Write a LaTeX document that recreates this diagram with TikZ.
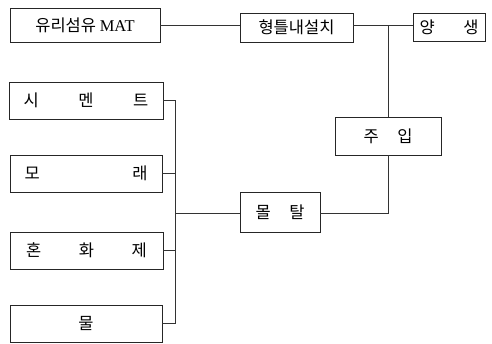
\documentclass[tikz,border=0pt]{standalone}
\usepackage{fontspec}
\setmainfont{Liberation Serif}
\newfontfamily\kr{Noto Sans CJK KR}[Scale=1]
\begin{document}
\begin{tikzpicture}[x=1pt,y=-1pt,
  box/.style={draw=black!85,line width=0.7pt,inner sep=0pt,rectangle,
    font=\fontsize{16.5}{18}\selectfont\kr},
  link/.style={draw=black!80,line width=0.7pt}]
\useasboundingbox (0,0) rectangle (492,344);
\node[box,minimum width=150pt,minimum height=34pt] (mat) at (85,25) {유리섬유 {\fontsize{16.5}{18}\rmfamily MAT}};
\node[box,minimum width=113pt,minimum height=29pt] (form) at (296.5,27.5) {형틀내설치};
\node[box,minimum width=72pt,minimum height=28pt] (cure) at (449,27) {양\hspace{28.5pt}생};
\node[box,minimum width=106pt,minimum height=38pt] (pour) at (388,136) {주\hspace{18.5pt}입};
\node[box,minimum width=80pt,minimum height=40pt] (mortar) at (280,212) {몰\hspace{18.5pt}탈};
\node[box,minimum width=154pt,minimum height=37pt] (cement) at (86,100.5) {시\hspace{39.5pt}멘\hspace{39.5pt}트};
\node[box,minimum width=152pt,minimum height=37pt] (sand) at (86,173.5) {모\hspace{92.5pt}래};
\node[box,minimum width=153pt,minimum height=37pt] (admix) at (86.5,250.5) {혼\hspace{37.5pt}화\hspace{37.5pt}제};
\node[box,minimum width=152pt,minimum height=37pt] (water) at (86,323.5) {물};
\coordinate (bus) at (175,213);
\coordinate (jn) at (388,25);
\draw[link] (mat.east |- 0,25) -- (form.west |- 0,25);
\draw[link] (form.east |- 0,25) -- (cure.west |- 0,25);
\draw[link] (pour.north) -- (jn);
\draw[link] (cement.east) -| (bus);
\draw[link] (sand.east) -- (sand.east -| bus);
\draw[link] (admix.east) -- (admix.east -| bus);
\draw[link] (water.east) -| (bus);
\draw[link] (bus) -- (mortar.west |- bus);
\draw[link] (mortar.east |- bus) -| (pour.south);
\end{tikzpicture}
\end{document}
